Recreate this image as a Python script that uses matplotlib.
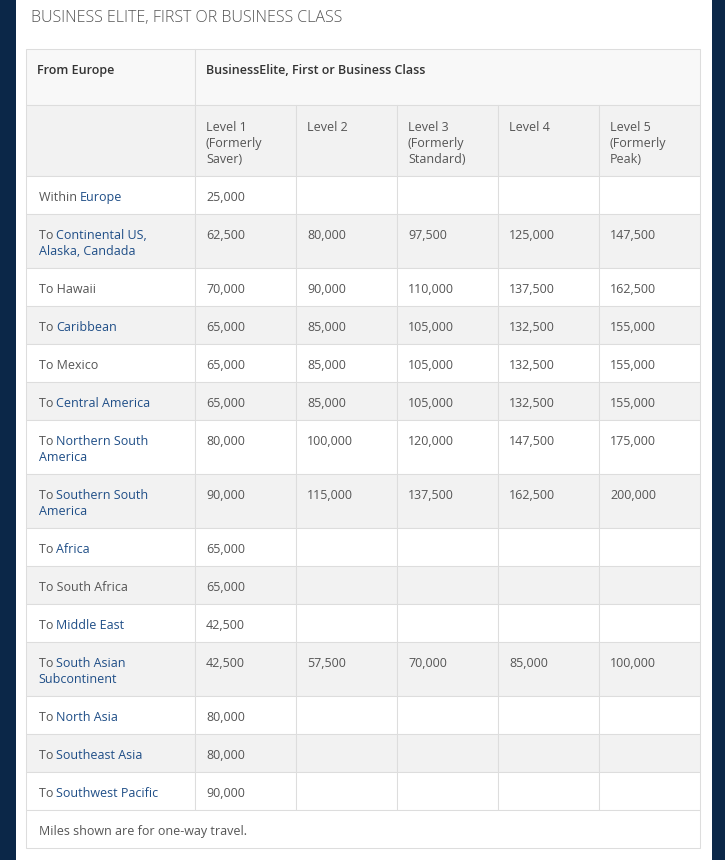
import matplotlib.pyplot as plt
from matplotlib.patches import Rectangle

plt.rcParams['font.family'] = ['Open Sans', 'DejaVu Sans']

title = "BUSINESS ELITE, FIRST OR BUSINESS CLASS"
corner_label = "From Europe"
group_label = "BusinessElite, First or Business Class"
footer = "Miles shown are for one-way travel."

levels = ["Level 1\n(Formerly\nSaver)", "Level 2", "Level 3\n(Formerly\nStandard)",
          "Level 4", "Level 5\n(Formerly\nPeak)"]

# plain part / linked part of each region name
prefixes = ["Within ", "To ", "To Hawaii", "To ", "To Mexico", "To ", "To ", "To ",
            "To ", "To South Africa", "To ", "To ", "To ", "To ", "To "]
links = ["Europe", "Continental US,\nAlaska, Candada", "", "Caribbean", "",
         "Central America", "Northern South\nAmerica", "Southern South\nAmerica",
         "Africa", "", "Middle East", "South Asian\nSubcontinent", "North Asia",
         "Southeast Asia", "Southwest Pacific"]

level1 = [25000, 62500, 70000, 65000, 65000, 65000, 80000, 90000,
          65000, 65000, 42500, 42500, 80000, 80000, 90000]
level2 = [None, 80000, 90000, 85000, 85000, 85000, 100000, 115000,
          None, None, None, 57500, None, None, None]
level3 = [None, 97500, 110000, 105000, 105000, 105000, 120000, 137500,
          None, None, None, 70000, None, None, None]
level4 = [None, 125000, 137500, 132500, 132500, 132500, 147500, 162500,
          None, None, None, 85000, None, None, None]
level5 = [None, 147500, 162500, 155000, 155000, 155000, 175000, 200000,
          None, None, None, 100000, None, None, None]
values = [level1, level2, level3, level4, level5]

# style
navy = '#0b2748'
grid = '#dddddd'
txt = '#555555'
dark = '#333333'
link = '#1f4e87'
stripe = '#f2f2f2'
fs = 9.0

fig = plt.figure(figsize=(7.25, 8.6), dpi=100, facecolor=navy)
ax = fig.add_axes([0, 0, 1, 1])
ax.set_xlim(0, 725)
ax.set_ylim(860, 0)
ax.axis('off')
renderer = fig.canvas.get_renderer()

ax.add_patch(Rectangle((16, 0), 696, 860, facecolor='white', edgecolor='none'))
ax.text(31, 21.7, title, fontsize=11.5, color=txt, fontweight='light', va='baseline')

cols = [26.5, 195.5, 296.5, 397.5, 498.5, 599.5, 700.5]
lw = 0.75


def cell(x0, x1, y0, h, fc):
    ax.add_patch(Rectangle((x0, y0), x1 - x0, h, facecolor=fc, edgecolor=grid, lw=lw))


def width(s, **kw):
    t = ax.text(0, 0, s, fontsize=fs, **kw)
    w = t.get_window_extent(renderer=renderer).width
    t.remove()
    return w


# header row 1
y = 49.3
h = 56
cell(cols[0], cols[1], y, h, '#f8f8f8')
cell(cols[1], cols[-1], y, h, '#f8f8f8')
ax.text(cols[0] + 10.5, y + 24.7, corner_label, fontsize=fs, color=dark,
        fontweight='semibold', va='baseline')
ax.text(cols[1] + 10.5, y + 24.7, group_label, fontsize=fs, color=dark,
        fontweight='semibold', va='baseline')
y += h

# header row 2
h = 70.4
cell(cols[0], cols[1], y, h, stripe)
for j, lab in enumerate(levels):
    cell(cols[j + 1], cols[j + 2], y, h, stripe)
    for k, line in enumerate(lab.split('\n')):
        ax.text(cols[j + 1] + 10.5, y + 25.5 + 16 * k, line, fontsize=fs,
                color=txt, va='baseline')
y += h

# body rows
for i in range(len(prefixes)):
    link_lines = links[i].split('\n') if links[i] else []
    n = max(1, len(link_lines))
    h = 22 + 16 * n
    fc = stripe if i % 2 == 1 else 'white'
    for j in range(6):
        cell(cols[j], cols[j + 1], y, h, fc)
    x0 = cols[0] + 12.2
    base = y + 25.3
    ax.text(x0, base, prefixes[i], fontsize=fs, color=txt, va='baseline')
    if link_lines:
        wfull = width(prefixes[i] + link_lines[0])
        ax.text(x0 + wfull, base, link_lines[0], fontsize=fs, color=link,
                va='baseline', ha='right')
        for k, line in enumerate(link_lines[1:], start=1):
            ax.text(x0, base + 16 * k, line, fontsize=fs, color=link, va='baseline')
    for j, series in enumerate(values):
        v = series[i]
        if v is not None:
            ax.text(cols[j + 1] + 10.5, base, f"{v:,}", fontsize=fs, color=txt,
                    va='baseline')
    y += h

# footer
h = 38
cell(cols[0], cols[-1], y, h, 'white')
ax.text(cols[0] + 12.2, y + 25.3, footer, fontsize=fs, color=txt, va='baseline')

fig.savefig('out.png', dpi=100, facecolor=navy)
